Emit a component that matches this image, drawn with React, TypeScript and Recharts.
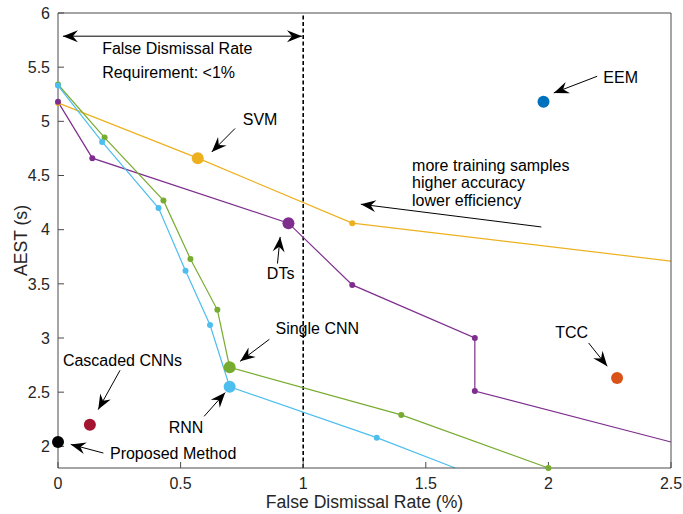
import React from "react";
import {
  ComposedChart,
  Line,
  Scatter,
  XAxis,
  YAxis,
  ReferenceLine,
  ReferenceDot,
} from "recharts";

// axes
const xTicks = [0, 0.5, 1, 1.5, 2, 2.5];
const yTicks = [2, 2.5, 3, 3.5, 4, 4.5, 5, 5.5, 6];

// curves: false dismissal rate (%) vs AEST (s)
const svmFdr = [0, 0.57, 1.2, 2.5];
const svmAest = [5.17, 4.66, 4.06, 3.71];
const dtFdr = [0, 0.14, 0.94, 1.2, 1.7, 1.7, 2.5];
const dtAest = [5.18, 4.66, 4.06, 3.49, 3.0, 2.51, 2.04];
const cnnFdr = [0, 0.19, 0.43, 0.54, 0.65, 0.7, 1.4, 2.0];
const cnnAest = [5.34, 4.85, 4.27, 3.73, 3.26, 2.73, 2.29, 1.8];
const rnnFdr = [0, 0.18, 0.41, 0.52, 0.62, 0.7, 1.3, 1.62];
const rnnAest = [5.33, 4.81, 4.2, 3.62, 3.12, 2.55, 2.08, 1.8];

// single methods
const pointNames = ["EEM", "TCC", "Cascaded CNNs", "Proposed Method"];
const pointFdr = [1.98, 2.28, 0.13, 0];
const pointAest = [5.18, 2.63, 2.2, 2.04];

const FONT = '"Liberation Sans", Arial, Helvetica, sans-serif';
const AXIS = "#4a4a4a";

const toPts = (xs: number[], ys: number[]) => xs.map((x, i) => ({ x, y: ys[i] }));

const curves = [
  { name: "SVM", color: "#EDB120", fdr: svmFdr, aest: svmAest, big: 1, skip: [3] },
  { name: "DTs", color: "#7E2F8E", fdr: dtFdr, aest: dtAest, big: 2, skip: [6] },
  { name: "Single CNN", color: "#77AC30", fdr: cnnFdr, aest: cnnAest, big: 5, skip: [] as number[] },
  { name: "RNN", color: "#4DBEEE", fdr: rnnFdr, aest: rnnAest, big: 5, skip: [7] },
];

const pointColors: Record<string, string> = {
  EEM: "#0072BD",
  TCC: "#D95319",
  "Cascaded CNNs": "#A2142F",
  "Proposed Method": "#000000",
};

// annotation arrows: tail -> tip (data units)
const arrows = [
  { from: [0.02, 5.786], to: [0.995, 5.786], both: true },
  { from: [0.722, 4.934], to: [0.627, 4.717] },
  { from: [0.895, 3.687], to: [0.906, 3.933] },
  { from: [2.199, 5.416], to: [2.022, 5.262] },
  { from: [1.971, 4.025], to: [1.235, 4.235] },
  { from: [0.862, 2.988], to: [0.743, 2.785] },
  { from: [0.596, 2.277], to: [0.682, 2.496] },
  { from: [0.253, 2.702], to: [0.164, 2.339] },
  { from: [0.185, 1.938], to: [0.052, 2.018] },
  { from: [2.164, 2.954], to: [2.24, 2.739] },
];

const notes = [
  { text: "False Dismissal Rate", x: 0.18, y: 5.675, anchor: "start" },
  { text: "Requirement: <1%", x: 0.18, y: 5.453, anchor: "start" },
  { text: "SVM", x: 0.824, y: 5.019, anchor: "middle" },
  { text: "DTs", x: 0.908, y: 3.6, anchor: "middle" },
  { text: "EEM", x: 2.224, y: 5.401, anchor: "start" },
  { text: "more training samples", x: 1.444, y: 4.595, anchor: "start" },
  { text: "higher accuracy", x: 1.444, y: 4.431, anchor: "start" },
  { text: "lower efficiency", x: 1.444, y: 4.265, anchor: "start" },
  { text: "Single CNN", x: 0.887, y: 3.087, anchor: "start" },
  { text: "RNN", x: 0.522, y: 2.178, anchor: "middle" },
  { text: "Cascaded CNNs", x: 0.263, y: 2.794, anchor: "middle" },
  { text: "Proposed Method", x: 0.212, y: 1.933, anchor: "start" },
  { text: "TCC", x: 2.095, y: 3.055, anchor: "middle" },
];

const head = (tx: number, ty: number, fx: number, fy: number) => {
  const dx = tx - fx;
  const dy = ty - fy;
  const len = Math.hypot(dx, dy) || 1;
  const ux = dx / len;
  const uy = dy / len;
  const L = 15, W = 6, N = 10;
  const bx = tx - ux * L;
  const by = ty - uy * L;
  const nx = -uy;
  const ny = ux;
  const pts = [
    [tx, ty],
    [bx + nx * W, by + ny * W],
    [tx - ux * N, ty - uy * N],
    [bx - nx * W, by - ny * W],
  ]
    .map((p) => p.join(","))
    .join(" ");
  return <polygon points={pts} fill="#000" />;
};

const arrowShape = (both?: boolean) => (p: any) => {
  const { x1, y1, x2, y2 } = p;
  return (
    <g>
      <line x1={x1} y1={y1} x2={x2} y2={y2} stroke="#000" strokeWidth={1} />
      {head(x2, y2, x1, y1)}
      {both && head(x1, y1, x2, y2)}
    </g>
  );
};

const textShape = (text: string, anchor: string) => (p: any) => (
  <text
    x={p.cx}
    y={p.cy}
    textAnchor={anchor as any}
    dominantBaseline="central"
    fontSize={16}
    fontFamily={FONT}
    fill="#000"
  >
    {text}
  </text>
);

const makeDot = (color: string, big: number, skip: number[]) => (p: any) => {
  const { cx, cy, index } = p;
  if (skip.includes(index) || cx == null || cy == null) return <g key={`d${index}`} />;
  return (
    <circle key={`d${index}`} cx={cx} cy={cy} r={index === big ? 6 : 3} fill={color} stroke="none" />
  );
};

const tickStyle = { fontSize: 16, fontFamily: FONT, fill: "#262626" };

export default function App() {
  const singles = pointNames.map((n, i) => ({ name: n, x: pointFdr[i], y: pointAest[i] }));
  return (
    <div style={{ position: "absolute", left: 0, top: 0, background: "#fff" }}>
      <ComposedChart
        width={683}
        height={514}
        margin={{ top: 12, right: 11, bottom: 16, left: 8 }}
      >
        <XAxis
          xAxisId={0}
          type="number"
          dataKey="x"
          domain={[0, 2.5]}
          ticks={xTicks}
          interval={0}
          height={30}
          tickSize={-6}
          tickMargin={16}
          tick={tickStyle}
          stroke={AXIS}
          label={{
            content: (p: any) => {
              const vb = p.viewBox || { x: 58, y: 468, width: 613 };
              return (
                <text
                  x={vb.x + vb.width / 2}
                  y={vb.y + 33.5}
                  textAnchor="middle"
                  dominantBaseline="central"
                  fontSize={17.6}
                  fontFamily={FONT}
                  fill="#262626"
                >
                  False Dismissal Rate (%)
                </text>
              );
            },
          }}
        />
        <XAxis
          xAxisId="top"
          orientation="top"
          type="number"
          dataKey="x"
          domain={[0, 2.5]}
          ticks={xTicks}
          height={1}
          tickSize={-6}
          tick={false}
          stroke={AXIS}
        />
        <YAxis
          yAxisId={0}
          type="number"
          domain={[1.8, 6]}
          ticks={yTicks}
          interval={0}
          width={50}
          tickSize={-6}
          tickMargin={14}
          tick={tickStyle}
          stroke={AXIS}
          label={{
            content: (p: any) => {
              const vb = p.viewBox || { x: 8, y: 13, width: 50, height: 455 };
              const cx = vb.x + 12.5;
              const cy = vb.y + vb.height / 2;
              return (
                <text
                  x={cx}
                  y={cy}
                  transform={`rotate(-90, ${cx}, ${cy})`}
                  textAnchor="middle"
                  dominantBaseline="central"
                  fontSize={17.6}
                  fontFamily={FONT}
                  fill="#262626"
                >
                  AEST (s)
                </text>
              );
            },
          }}
        />
        <YAxis
          yAxisId="right"
          orientation="right"
          type="number"
          domain={[1.8, 6]}
          ticks={yTicks}
          width={1}
          tickSize={-6}
          tick={false}
          stroke={AXIS}
        />

        <ReferenceLine x={1} stroke="#000" strokeWidth={1.6} strokeDasharray="4 2.5" />

        {curves.map((c) => (
          <Line
            key={c.name}
            name={c.name}
            data={toPts(c.fdr, c.aest)}
            dataKey="y"
            type="linear"
            stroke={c.color}
            strokeWidth={1.2}
            dot={makeDot(c.color, c.big, c.skip)}
            activeDot={false}
            isAnimationActive={false}
          />
        ))}

        {singles.map((s) => (
          <Scatter
            key={s.name}
            name={s.name}
            data={[s]}
            dataKey="y"
            fill={pointColors[s.name]}
            isAnimationActive={false}
            shape={(p: any) => (
              <circle cx={p.cx} cy={p.cy} r={6} fill={pointColors[s.name]} />
            )}
          />
        ))}

        {arrows.map((a, i) => (
          <ReferenceLine
            key={`a${i}`}
            segment={[
              { x: a.from[0], y: a.from[1] },
              { x: a.to[0], y: a.to[1] },
            ]}
            ifOverflow="visible"
            shape={arrowShape(a.both)}
          />
        ))}

        {notes.map((n, i) => (
          <ReferenceDot
            key={`n${i}`}
            x={n.x}
            y={n.y}
            r={0}
            ifOverflow="visible"
            shape={textShape(n.text, n.anchor)}
          />
        ))}
      </ComposedChart>
    </div>
  );
}
